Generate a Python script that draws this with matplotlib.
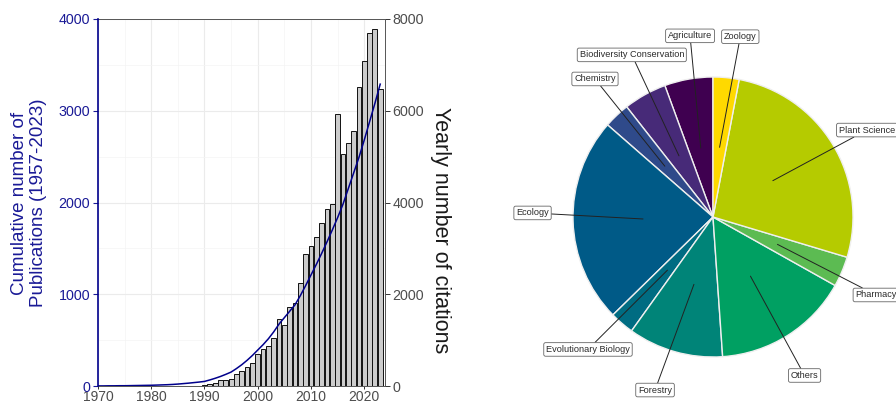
import numpy as np
import matplotlib
matplotlib.use("Agg")
import matplotlib.pyplot as plt
from matplotlib.ticker import MultipleLocator

plt.rcParams['font.family'] = ['Liberation Sans', 'DejaVu Sans']

# ---------------- data ----------------
cum_years = list(range(1970, 2024))
cum_pubs = [1, 1, 2, 2, 3, 3, 4, 5, 6, 7,
            8, 10, 12, 14, 17, 21, 26, 31, 37, 43,
            50, 66, 84, 104, 127, 152, 190, 232, 280, 333,
            392, 450, 515, 590, 675, 745, 815, 885, 985, 1095,
            1210, 1325, 1445, 1570, 1700, 1835, 1980, 2150, 2320, 2490,
            2680, 2880, 3080, 3290]

cit_years = list(range(1990, 2024))
citations = [15, 44, 58, 131, 135, 150, 262, 327, 422, 512,
             698, 799, 880, 1054, 1468, 1322, 1715, 1800, 2238, 2878,
             3052, 3256, 3546, 3860, 3960, 5930, 5060, 5305, 5550, 6511,
             7095, 7688, 7790, 6467]

left_ticks = [0, 1000, 2000, 3000, 4000]
right_ticks = [0, 2000, 4000, 6000, 8000]
x_ticks = [1970, 1980, 1990, 2000, 2010, 2020]

categories = ['Agriculture', 'Biodiversity Conservation', 'Chemistry', 'Ecology',
              'Evolutionary Biology', 'Forestry', 'Others', 'Pharmacy',
              'Plant Science', 'Zoology']
shares = [5.6, 5.0, 3.0, 23.8, 2.8, 11.0, 15.8, 3.5, 26.7, 3.0]
pie_colors = ['#3F0050', '#472A78', '#2F4A8A', '#005A87', '#006C82',
              '#008478', '#00A062', '#5CBB52', '#B5CB00', '#FFD900']

# label box positions (pie radius units), layout only
label_pos = [(-0.164, 1.294), (-0.58, 1.158), (-0.843, 0.986), (-1.289, 0.029),
             (-0.893, -0.946), (-0.414, -1.236), (0.654, -1.132), (1.165, -0.557),
             (1.10, 0.621), (0.195, 1.288)]

# ---------------- figure ----------------
W, H = 896, 403
fig = plt.figure(figsize=(W / 100, H / 100), dpi=100)

blue = '#1A1A96'
ax = fig.add_axes([98 / W, 17 / H, 287 / W, 367 / H])
ax.bar(cit_years, citations, width=0.9, color='#CCCCCC', edgecolor='#111111',
       linewidth=0.7, zorder=2)
ax.set_xlim(1970, 2023.9)
ax.set_ylim(0, 8000)
ax.set_xticks(x_ticks)
ax.set_yticks(right_ticks)
ax.xaxis.set_minor_locator(MultipleLocator(5))
ax.yaxis.set_minor_locator(MultipleLocator(1000))
ax.grid(which='major', color='#EBEBEB', lw=0.8)
ax.grid(which='minor', color='#F4F4F4', lw=0.5)
ax.set_axisbelow(True)

ax2 = ax.twinx()
ax2.plot(cum_years, cum_pubs, color='#00008B', lw=1.1, zorder=3)
ax2.set_ylim(0, 4000)
ax2.set_yticks(left_ticks)
ax2.yaxis.tick_left()
ax.yaxis.tick_right()

ax.tick_params(which='minor', length=0)
ax.tick_params(axis='y', which='major', length=3.5, width=0.7, color='#333333',
               labelsize=10.3, labelcolor='#4D4D4D', pad=2)
ax.tick_params(axis='x', which='major', length=2.5, width=0.7, color='#333333',
               labelsize=10, labelcolor='#4D4D4D', pad=0.5)
for s in ['top', 'right', 'bottom']:
    ax.spines[s].set_color('#555555')
    ax.spines[s].set_linewidth(0.7)
ax.spines['left'].set_visible(False)

ax2.tick_params(axis='y', length=3.5, width=0.8, color=blue, labelcolor=blue,
                labelsize=10.3, pad=2)
for s in ['top', 'right', 'bottom']:
    ax2.spines[s].set_visible(False)
ax2.spines['left'].set_color('#00008B')
ax2.spines['left'].set_linewidth(1.2)

fig.text(29 / W, 1 - 203 / H, 'Cumulative number of\nPublications (1957-2023)',
         rotation=90, ha='center', va='center', multialignment='center',
         fontsize=13.5, color=blue, linespacing=1.12)
fig.text(440 / W, 1 - 230 / H, 'Yearly number of citations', rotation=270,
         ha='center', va='center', fontsize=15.5, color='#1A1A1A')

# ---------------- pie ----------------
R = 140.0
cx, cy = 713.0, 217.0
pax = fig.add_axes([500 / W, 0, 396 / W, 1])
pax.pie(shares, colors=pie_colors, startangle=90, counterclock=True, radius=1,
        wedgeprops=dict(edgecolor='#EFEFEF', linewidth=1.0))
pax.set_aspect('auto')
pax.set_xlim(-(cx - 500) / R, (896 - cx) / R)
pax.set_ylim(-(H - cy) / R, cy / R)
pax.axis('off')

total = float(sum(shares))
cum = 0.0
for cat, sh, pos in zip(categories, shares, label_pos):
    mid = np.deg2rad(90 + 360 * (cum + sh / 2) / total)
    cum += sh
    pt = (0.5 * np.cos(mid), 0.5 * np.sin(mid))
    pax.annotate(cat, xy=pt, xytext=pos, ha='center', va='center',
                 fontsize=6.6, color='#2A2A2A', annotation_clip=False,
                 bbox=dict(boxstyle='round,pad=0.25,rounding_size=0.2',
                           fc='white', ec='#666666', lw=0.6),
                 arrowprops=dict(arrowstyle='-', color='#222222', lw=0.7,
                                 shrinkA=0, shrinkB=0))

fig.savefig('out.png', dpi=100)
